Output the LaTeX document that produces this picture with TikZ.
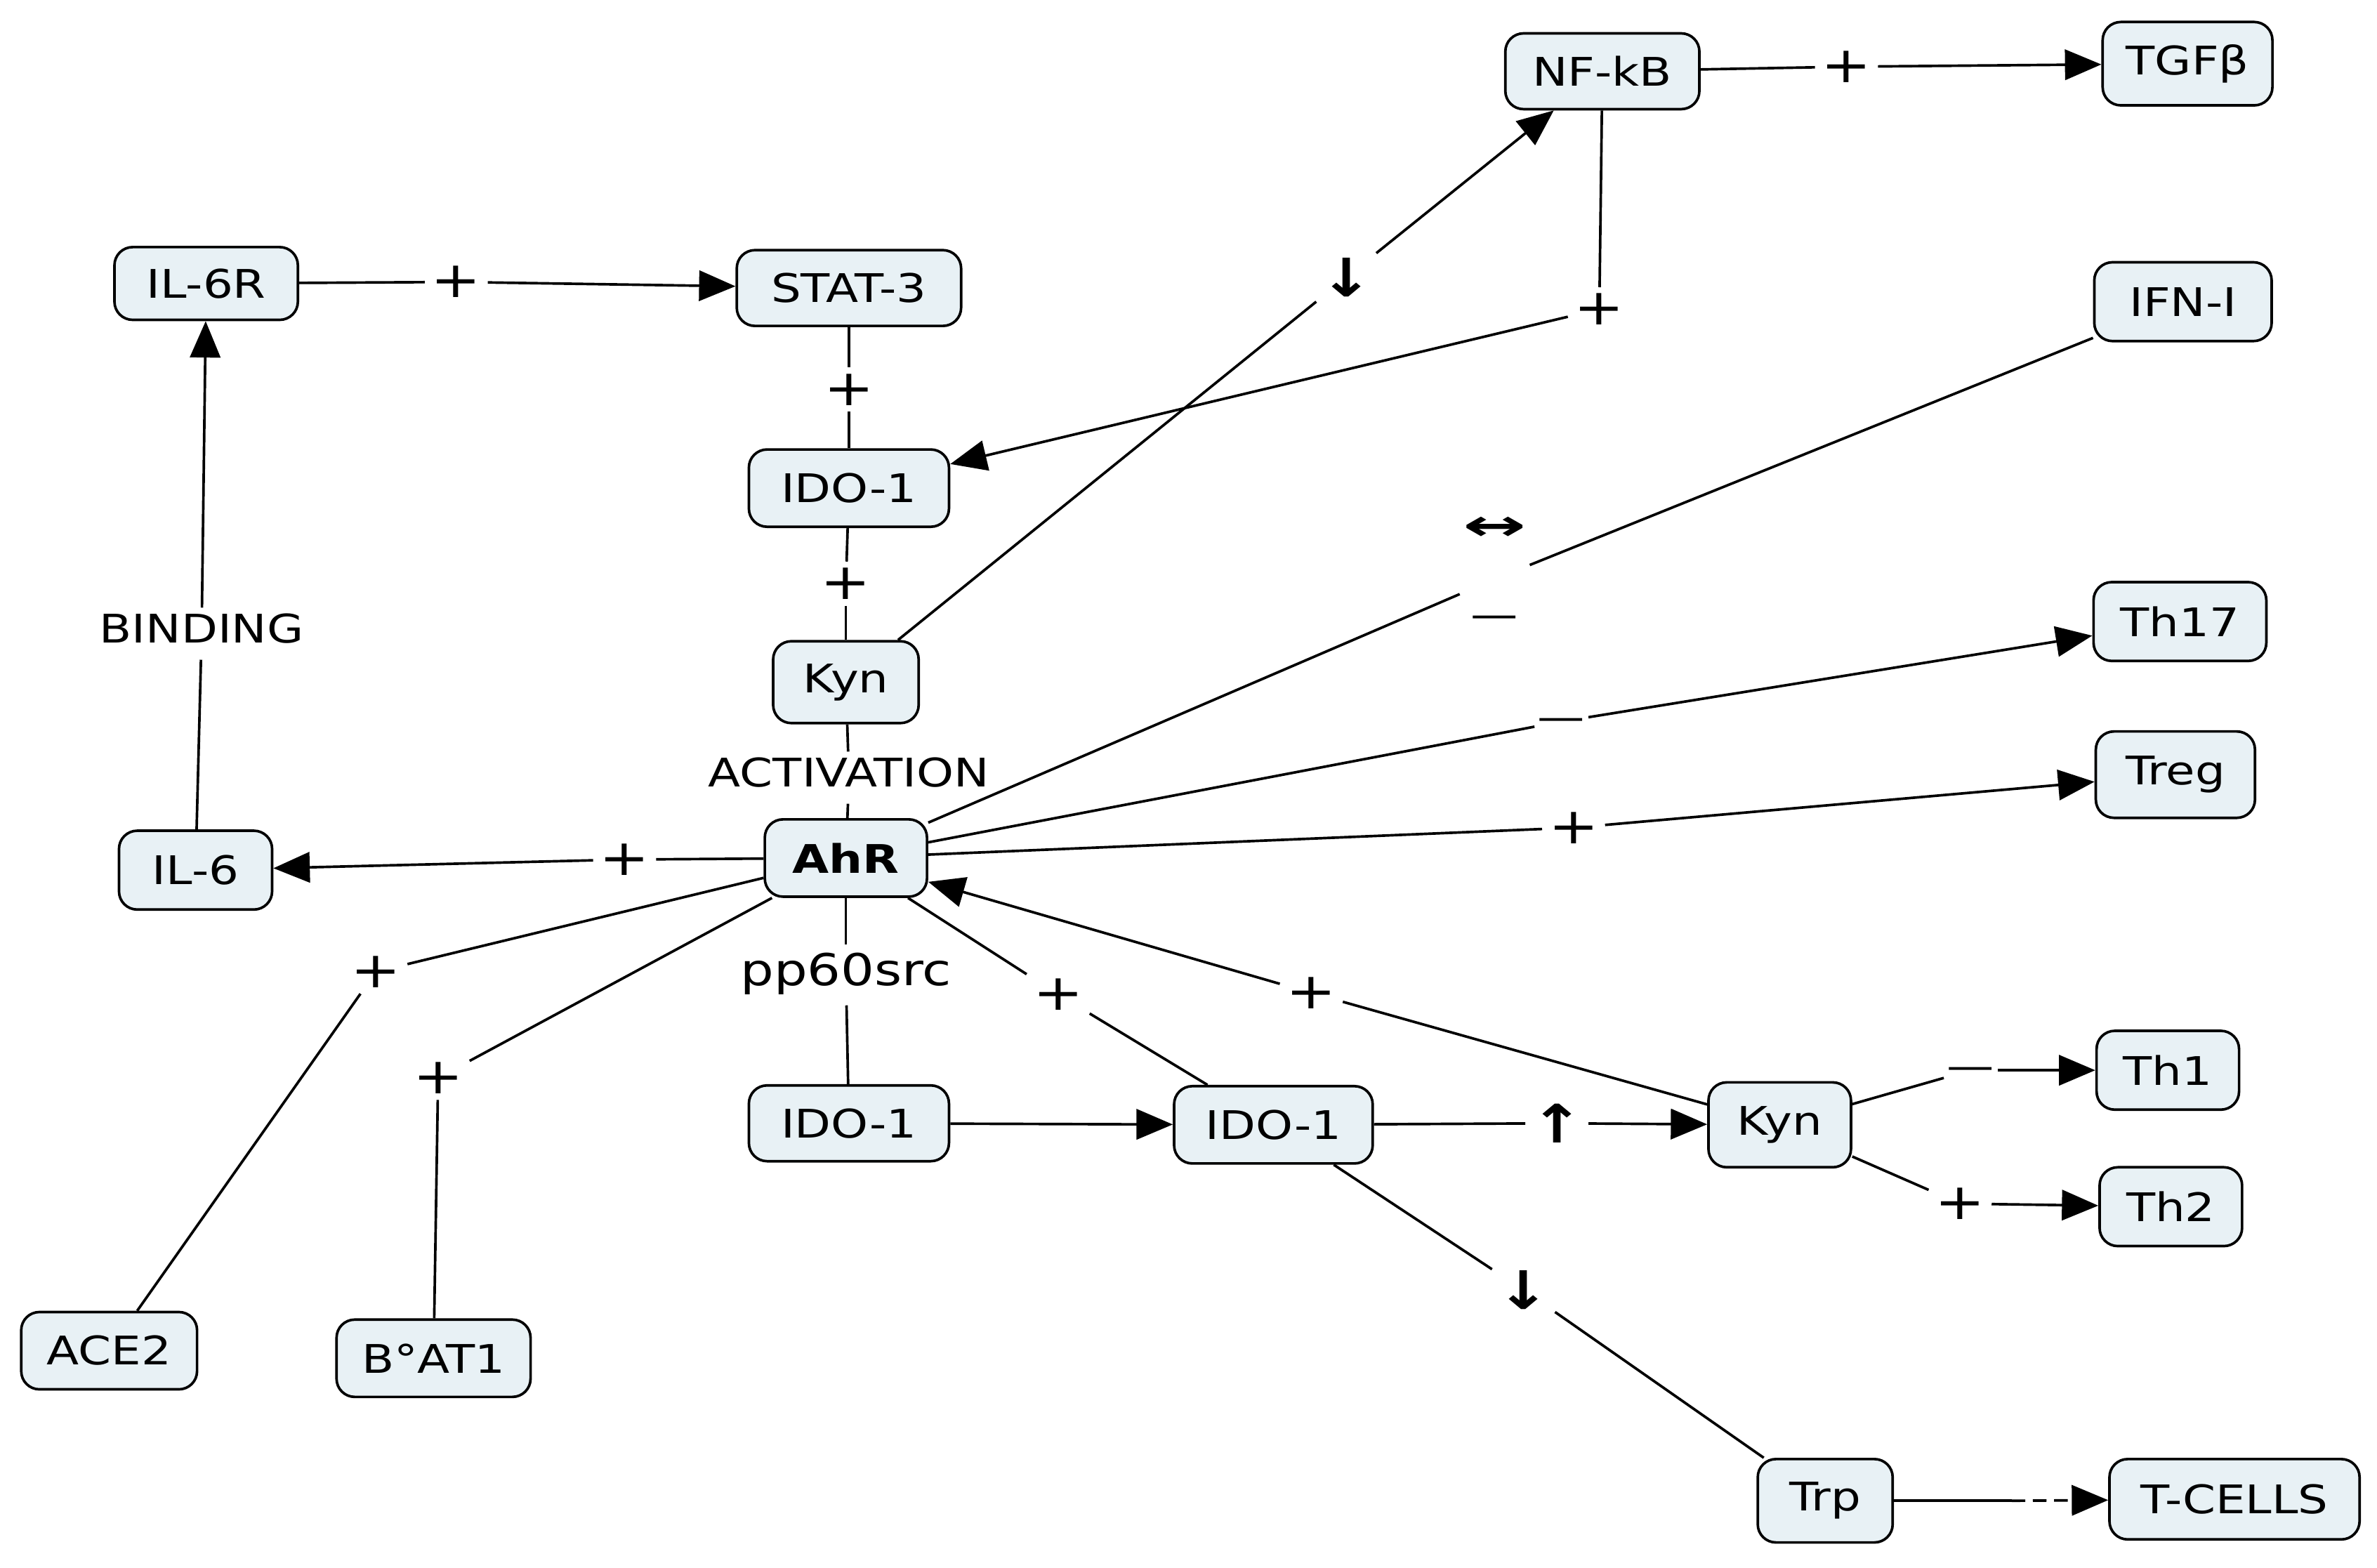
\documentclass[tikz,border=0pt]{standalone}
\usepackage{fontspec}
\setmainfont{DejaVu Sans}[FakeStretch=1.2]
\usetikzlibrary{arrows.meta}
\definecolor{boxfill}{RGB}{232,241,245}
\begin{document}
\begin{tikzpicture}[x=1pt,y=-1pt,
  bx/.style 2 args={draw=black, line width=1.7pt, fill=boxfill, rounded corners=12pt,
    minimum width=#1pt, minimum height=#2pt, inner sep=0pt, font=\fontsize{26}{30}\selectfont},
  lbl/.style={inner sep=2pt, font=\fontsize{26}{30}\selectfont, execute at begin node=\strut},
  pl/.style={inner sep=4pt, font=\fontsize{33}{36}\selectfont},
  sarr/.style={inner sep=3pt, font=\fontsize{35}{38}\selectfont\bfseries},
  ln/.style={line width=1.7pt},
  ar/.style={line width=1.7pt, -{Triangle[length=24pt,width=20pt]}},
]
\useasboundingbox (0,0) rectangle (1568,1034);
% boxes
\node[bx={121}{48}] (il6r) at (136,187) {IL-6R};
\node[bx={148}{50}] (stat3) at (560,190) {STAT-3};
\node[bx={128}{50}] (nfkb) at (1057,47) {NF-kB};
\node[bx={112}{55}] (tgfb) at (1443,42) {TGFβ};
\node[bx={117}{52}] (ifn) at (1440,199) {IFN-I};
\node[bx={132}{51}] (idoA) at (560,322) {IDO-1};
\node[bx={96}{54}] (kynA) at (558,450) {Kyn};
\node[bx={114}{52}] (th17) at (1438,410) {Th17};
\node[bx={105}{57}] (treg) at (1435,511) {Treg};
\node[bx={107}{51}] (ahr) at (558,566) {\bfseries AhR};
\node[bx={101}{52}] (il6) at (129,574) {IL-6};
\node[bx={132}{50}] (idoB) at (560,741) {IDO-1};
\node[bx={131}{51}] (idoC) at (840,742) {IDO-1};
\node[bx={94}{56}] (kynB) at (1174,742) {Kyn};
\node[bx={94}{52}] (th1) at (1430,706) {Th1};
\node[bx={94}{52}] (th2) at (1432,796) {Th2};
\node[bx={116}{51}] (ace2) at (72,891) {ACE2};
\node[bx={128}{51}] (bat1) at (286,896) {B°AT1};
\node[bx={89}{55}] (trp) at (1204,990) {Trp};
\node[bx={165}{53}] (tcells) at (1474,989) {T-CELLS};
% labels
\node[pl] (l1) at (301,186) {+};
\node[lbl] (lbind) at (133,418) {BINDING};
\node[pl] (l2) at (560,257) {+};
\node[pl] (l3) at (558,385) {+};
\node[lbl] (lact) at (560,513) {ACTIVATION};
\node[pl] (l4) at (412,567) {+};
\node[lbl, font=\fontsize{29}{36}\selectfont] (lpp) at (558,643) {pp60src};
\node[pl] (l5) at (248,641) {+};
\node[pl] (l6) at (289,711) {+};
\node[pl] (l7) at (698,656) {+};
\node[pl] (l8) at (865,655) {+};
\node[sarr] (l9) at (1027,741) {↑};
\node[lbl] (l10) at (1300,706) {—};
\node[pl] (l11) at (1293,794) {+};
\node[sarr] (l12) at (1005,851) {↓};
\node[sarr] (l13) at (888,183) {↓};
\node[pl] (l14) at (1055,204) {+};
\node[pl] (l15) at (1218,44) {+};
\node[lbl, align=center] (l16) at (986,382) {{\bfseries\scalebox{1.6}[1.1]{↔}}\\[28pt]—};
\node[lbl] (l17) at (1030,476) {—};
\node[pl] (l18) at (1038,546) {+};
\coordinate (tcm) at (1327,990);
% connectors
\draw[ln] (il6r) -- (l1); \draw[ar] (l1) -- (stat3);
\draw[ln] (il6) -- (lbind); \draw[ar] (lbind) -- (il6r);
\draw[ln] (stat3) -- (l2); \draw[ln] (l2) -- (idoA);
\draw[ln] (idoA) -- (l3); \draw[ln] (l3) -- (kynA);
\draw[ln] (kynA) -- (lact); \draw[ln] (lact) -- (ahr);
\draw[ln] (ahr) -- (l4); \draw[ar] (l4) -- (il6);
\draw[ln] (ahr) -- (lpp); \draw[ln] (lpp) -- (idoB);
\draw[ar] (idoB) -- (idoC);
\draw[ln] (ahr) -- (l7); \draw[ln] (l7) -- (idoC);
\draw[ln] (kynB) -- (l8); \draw[ar] (l8) -- (ahr);
\draw[ln] (idoC) -- (l9); \draw[ar] (l9) -- (kynB);
\draw[ln] (idoC) -- (l12); \draw[ln] (l12) -- (trp);
\draw[ln] (kynB) -- (l10); \draw[ar] (l10) -- (th1);
\draw[ln] (kynB) -- (l11); \draw[ar] (l11) -- (th2);
\draw[ln] (trp) -- (tcm); \draw[ar, dash pattern=on 9pt off 5pt] (tcm) -- (tcells);
\draw[ln] (ace2) -- (l5); \draw[ln] (l5) -- (ahr);
\draw[ln] (bat1) -- (l6); \draw[ln] (l6) -- (ahr);
\draw[ln] (kynA) -- (l13); \draw[ar] (l13) -- (nfkb);
\draw[ln] (nfkb) -- (l14); \draw[ar] (l14) -- (idoA);
\draw[ln] (nfkb) -- (l15); \draw[ar] (l15) -- (tgfb);
\draw[ln] (ifn) -- (l16); \draw[ln] (l16) -- (ahr);
\draw[ln] (ahr) -- (l17); \draw[ar] (l17) -- (th17);
\draw[ln] (ahr) -- (l18); \draw[ar] (l18) -- (treg);
\end{tikzpicture}
\end{document}
